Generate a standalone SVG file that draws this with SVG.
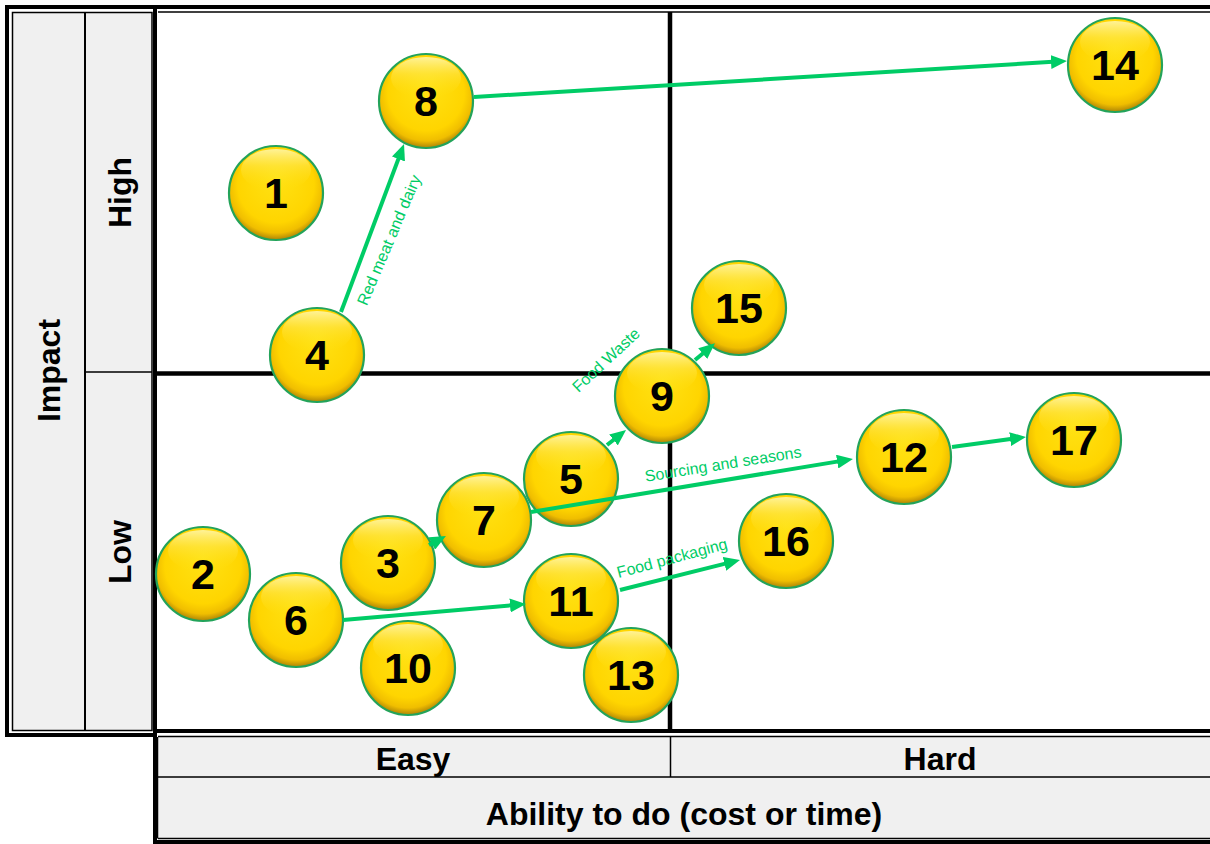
<svg xmlns="http://www.w3.org/2000/svg" width="1210" height="844" viewBox="0 0 1210 844">
<style>
.thick{stroke:#000;stroke-width:4;fill:none}
.thin{stroke:#000;stroke-width:1.5;fill:none}
.panel{fill:#F0F0F0;stroke:#000;stroke-width:1.5}
.grid{stroke:#000;stroke-width:4.5}
.axis{font-family:"Liberation Sans",Arial,sans-serif;font-weight:bold;font-size:32px;fill:#000;text-anchor:middle}
.ball{fill:url(#ballG);stroke:#23A35A;stroke-width:2.2}
.hl{fill:url(#hlG)}
.num{font-family:"Liberation Sans",Arial,sans-serif;font-weight:bold;font-size:43px;fill:#000;text-anchor:middle}
.conn{stroke:#00CC66;stroke-width:4;fill:none;marker-end:url(#ah)}
.lbl{font-family:"Liberation Sans",Arial,sans-serif;font-size:16px;fill:#00CC66;text-anchor:middle}
</style>
<defs>
<radialGradient id="ballG" cx="0.5" cy="0.44" r="0.58" fx="0.5" fy="0.34">
<stop offset="0" stop-color="#FFE214"/>
<stop offset="0.7" stop-color="#FFD500"/>
<stop offset="0.86" stop-color="#F0BE00"/>
<stop offset="0.95" stop-color="#B98E05"/>
<stop offset="1" stop-color="#7E6414"/>
</radialGradient>
<linearGradient id="hlG" x1="0" y1="0" x2="0" y2="1">
<stop offset="0" stop-color="#FFF4A0" stop-opacity="0.95"/>
<stop offset="0.4" stop-color="#FFF07A" stop-opacity="0.35"/>
<stop offset="1" stop-color="#FFE000" stop-opacity="0"/>
</linearGradient>
<marker id="ah" markerUnits="userSpaceOnUse" markerWidth="16" markerHeight="14" refX="6" refY="7" orient="auto">
<path d="M0,0 L16,7 L0,14 Z" fill="#00CC66"/>
</marker>
</defs>
<rect width="1210" height="844" fill="#fff"/>

<g id="frame">
<rect x="12.5" y="12.5" width="139.5" height="718" class="panel"/>
<line x1="85" y1="12.5" x2="85" y2="730.5" stroke="#000" stroke-width="2"/>
<line x1="85" y1="372" x2="152" y2="372" stroke="#000" stroke-width="1.5"/>
<rect x="158" y="737" width="1052" height="101" fill="#F0F0F0"/>
<line x1="158" y1="736.5" x2="1210" y2="736.5" class="thin"/>
<line x1="158" y1="777" x2="1210" y2="777" class="thin"/>
<line x1="670.5" y1="737" x2="670.5" y2="777" class="thin"/>
<line x1="158" y1="838.5" x2="1210" y2="838.5" class="thin"/>
<line x1="157.5" y1="737" x2="157.5" y2="838.5" class="thin"/>
<line x1="158" y1="12" x2="1210" y2="12" class="thin"/>
<line x1="5" y1="7" x2="1210" y2="7" class="thick"/>
<line x1="7" y1="5" x2="7" y2="737" class="thick"/>
<line x1="5" y1="735" x2="157" y2="735" class="thick"/>
<line x1="155" y1="5" x2="155" y2="844" class="thick"/>
<line x1="153" y1="731" x2="1210" y2="731" class="thick"/>
<line x1="153" y1="842" x2="1210" y2="842" class="thick"/>
<text class="axis" transform="translate(60,370.5) rotate(-90)" x="0" y="0">Impact</text>
<text class="axis" transform="translate(131,192.5) rotate(-90)" x="0" y="0">High</text>
<text class="axis" transform="translate(131,552) rotate(-90)" x="0" y="0">Low</text>
<text class="axis" x="413" y="770">Easy</text>
<text class="axis" x="940" y="770">Hard</text>
<text class="axis" x="684" y="825">Ability to do (cost or time)</text>
</g>

<g id="grid">
<line class="grid" x1="670" y1="12" x2="670" y2="731"/>
<line class="grid" x1="157" y1="373.5" x2="1210" y2="373.5"/>
</g>

<g id="n1"><circle class="ball" cx="276" cy="193" r="47"/><ellipse class="hl" cx="276" cy="170" rx="35" ry="21"/><text class="num" x="276" y="208">1</text></g>
<g id="n2"><circle class="ball" cx="203" cy="574" r="47"/><ellipse class="hl" cx="203" cy="551" rx="35" ry="21"/><text class="num" x="203" y="589">2</text></g>
<g id="n3"><circle class="ball" cx="388" cy="563" r="47"/><ellipse class="hl" cx="388" cy="540" rx="35" ry="21"/><text class="num" x="388" y="578">3</text></g>
<g id="n4"><circle class="ball" cx="317" cy="355" r="47"/><ellipse class="hl" cx="317" cy="332" rx="35" ry="21"/><text class="num" x="317" y="370">4</text></g>
<g id="n5"><circle class="ball" cx="571" cy="479" r="47"/><ellipse class="hl" cx="571" cy="456" rx="35" ry="21"/><text class="num" x="571" y="494">5</text></g>
<g id="n6"><circle class="ball" cx="296" cy="620" r="47"/><ellipse class="hl" cx="296" cy="597" rx="35" ry="21"/><text class="num" x="296" y="635">6</text></g>
<g id="n7"><circle class="ball" cx="484" cy="520" r="47"/><ellipse class="hl" cx="484" cy="497" rx="35" ry="21"/><text class="num" x="484" y="535">7</text></g>
<g id="n8"><circle class="ball" cx="426" cy="101" r="47"/><ellipse class="hl" cx="426" cy="78" rx="35" ry="21"/><text class="num" x="426" y="116">8</text></g>
<g id="n9"><circle class="ball" cx="662" cy="396" r="47"/><ellipse class="hl" cx="662" cy="373" rx="35" ry="21"/><text class="num" x="662" y="411">9</text></g>
<g id="n10"><circle class="ball" cx="408" cy="668" r="47"/><ellipse class="hl" cx="408" cy="645" rx="35" ry="21"/><text class="num" x="408" y="683">10</text></g>
<g id="n11"><circle class="ball" cx="571" cy="601" r="47"/><ellipse class="hl" cx="571" cy="578" rx="35" ry="21"/><text class="num" x="571" y="616">11</text></g>
<g id="n12"><circle class="ball" cx="904" cy="457" r="47"/><ellipse class="hl" cx="904" cy="434" rx="35" ry="21"/><text class="num" x="904" y="472">12</text></g>
<g id="n13"><circle class="ball" cx="631" cy="675" r="47"/><ellipse class="hl" cx="631" cy="652" rx="35" ry="21"/><text class="num" x="631" y="690">13</text></g>
<g id="n14"><circle class="ball" cx="1115" cy="65" r="47"/><ellipse class="hl" cx="1115" cy="42" rx="35" ry="21"/><text class="num" x="1115" y="80">14</text></g>
<g id="n15"><circle class="ball" cx="739" cy="308" r="47"/><ellipse class="hl" cx="739" cy="285" rx="35" ry="21"/><text class="num" x="739" y="323">15</text></g>
<g id="n16"><circle class="ball" cx="786" cy="541" r="47"/><ellipse class="hl" cx="786" cy="518" rx="35" ry="21"/><text class="num" x="786" y="556">16</text></g>
<g id="n17"><circle class="ball" cx="1074" cy="440" r="47"/><ellipse class="hl" cx="1074" cy="417" rx="35" ry="21"/><text class="num" x="1074" y="455">17</text></g>

<g id="connectors">
<line class="conn" x1="341" y1="312" x2="400.5" y2="153.4"/>
<line class="conn" x1="474" y1="97" x2="1057" y2="61.6"/>
<line class="conn" x1="695" y1="360" x2="707.3" y2="349.7"/>
<line class="conn" x1="607" y1="445" x2="618.2" y2="436.2"/>
<line class="conn" x1="531" y1="512" x2="843.1" y2="460.6"/>
<line class="conn" x1="952" y1="447" x2="1016.1" y2="438.3"/>
<line class="conn" x1="429" y1="545" x2="437.1" y2="540.7"/>
<line class="conn" x1="343" y1="620" x2="516" y2="604.9"/>
<line class="conn" x1="620" y1="590" x2="730.3" y2="562.4"/>
<text class="lbl" transform="translate(389,240) rotate(-67)" x="0" y="5.5">Red meat and dairy</text>
<text class="lbl" transform="translate(606,360) rotate(-43)" x="0" y="5.5">Food Waste</text>
<text class="lbl" transform="translate(723,464) rotate(-9)" x="0" y="5.5">Sourcing and seasons</text>
<text class="lbl" transform="translate(672,558) rotate(-15)" x="0" y="5.5">Food packaging</text>
</g>
</svg>
